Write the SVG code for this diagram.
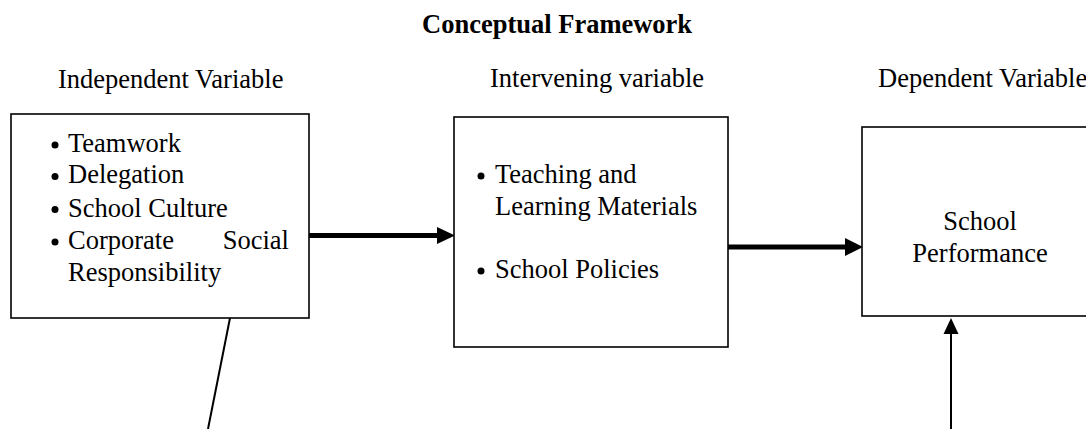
<svg xmlns="http://www.w3.org/2000/svg" width="1086" height="429" viewBox="0 0 1086 429">
  <style>
    text { font-family: "Liberation Serif", "Times New Roman", serif; font-size: 26.5px; fill: #000; }
    .title { font-weight: bold; }
    .box { fill: #fff; stroke: #000; stroke-width: 1.6; }
    .bullet { fill: #000; }
    .thick { stroke: #000; stroke-width: 5; fill: none; }
    .thin { stroke: #000; stroke-width: 2; fill: none; }
    .head { fill: #000; }
  </style>

  <rect x="0" y="0" width="1086" height="429" fill="#fff"/>

  <text class="title" x="422" y="33">Conceptual Framework</text>

  <text x="58" y="88">Independent Variable</text>
  <text x="490" y="87">Intervening variable</text>
  <text x="878" y="87">Dependent Variable</text>

  <!-- connectors -->
  <g id="connectors">
    <line class="thick" x1="309" y1="235.5" x2="440" y2="235.5"/>
    <polygon class="head" points="437,227 455,235.5 437,244"/>
    <line class="thick" x1="728" y1="247" x2="848" y2="247"/>
    <polygon class="head" points="845,238 863,247 845,256"/>
    <line class="thin" x1="230" y1="318" x2="208" y2="429"/>
    <line class="thin" x1="951" y1="429" x2="951" y2="330"/>
    <polygon class="head" points="943.5,334 951,318 958.5,334"/>
  </g>

  <g id="independent">
    <rect class="box" x="11" y="114" width="298" height="204"/>
    <circle class="bullet" cx="55" cy="145" r="3.5"/>
    <text x="68" y="152">Teamwork</text>
    <circle class="bullet" cx="55" cy="176.5" r="3.5"/>
    <text x="68" y="183">Delegation</text>
    <circle class="bullet" cx="55" cy="209.5" r="3.5"/>
    <text x="68" y="216.5">School Culture</text>
    <circle class="bullet" cx="55" cy="242" r="3.5"/>
    <text x="68" y="249">Corporate</text>
    <text x="289" y="249" text-anchor="end">Social</text>
    <text x="68" y="281">Responsibility</text>
  </g>

  <g id="intervening">
    <rect class="box" x="454" y="117" width="274" height="230"/>
    <circle class="bullet" cx="481" cy="176" r="3.5"/>
    <text x="495" y="183">Teaching and</text>
    <text x="495" y="215">Learning Materials</text>
    <circle class="bullet" cx="481" cy="271" r="3.5"/>
    <text x="495" y="278">School Policies</text>
  </g>

  <g id="dependent">
    <rect class="box" x="862" y="127" width="240" height="189"/>
    <text x="980" y="230" text-anchor="middle">School</text>
    <text x="980" y="262" text-anchor="middle">Performance</text>
  </g>
</svg>
